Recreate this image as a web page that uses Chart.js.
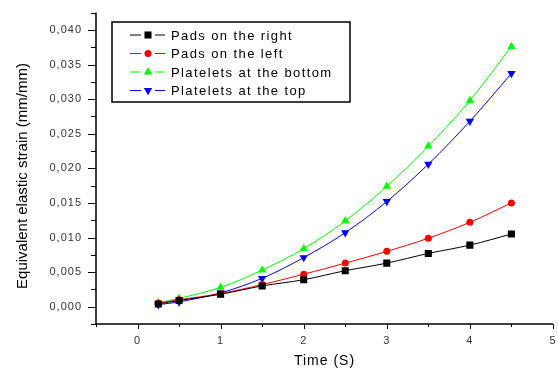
<!DOCTYPE html>
<html>
<head>
<meta charset="utf-8">
<script src="https://cdn.jsdelivr.net/npm/chart.js@4.4.1/dist/chart.umd.min.js"></script>
<style>
  html, body { margin: 0; padding: 0; background: #fff; }
  #wrap { width: 558px; height: 370px; }
</style>
</head>
<body>
<div id="wrap"><canvas id="strainChart"></canvas></div>
<script>
// time values (s) and strain per location (mm/mm)
var times = [0.25, 0.5, 1, 1.5, 2, 2.5, 3, 3.5, 4, 4.5];
var padsRight = [0.0004, 0.0009, 0.0018, 0.0030, 0.0039, 0.0052, 0.0063, 0.0077, 0.0089, 0.0105];
var padsLeft = [0.0005, 0.0010, 0.0019, 0.0032, 0.0047, 0.0063, 0.0080, 0.0099, 0.0122, 0.0150];
var plateletsBottom = [0.0006, 0.0012, 0.0028, 0.0053, 0.0084, 0.0124, 0.0174, 0.0232, 0.0298, 0.0376];
var plateletsTop = [0.0003, 0.0007, 0.0020, 0.0041, 0.0071, 0.0107, 0.0152, 0.0206, 0.0268, 0.0337];
var seriesNames = ['Pads on the right', 'Pads on the left', 'Platelets at the bottom', 'Platelets at the top'];
var xTicks = [0, 1, 2, 3, 4, 5];
var yTicks = [0, 0.005, 0.01, 0.015, 0.02, 0.025, 0.03, 0.035, 0.04];
var xTitle = 'Time (S)';
var yTitle = 'Equivalent elastic strain (mm/mm)';

var FONT = '"Liberation Sans", Arial, sans-serif';

function pts(vals) {
  return times.map(function (t, i) { return { x: t, y: vals[i] }; });
}

function makeSet(name, vals, color, style, rot, r) {
  return {
    label: name,
    data: pts(vals),
    borderColor: color,
    backgroundColor: color,
    borderWidth: 1,
    pointStyle: style,
    rotation: rot,
    pointRadius: r,
    pointBorderWidth: 0,
    tension: 0.35
  };
}

// axis lines, major and minor tick marks (Origin style, outward), titles
var axesPlugin = {
  id: 'axes',
  beforeDraw: function (chart) {
    chart.ctx.letterSpacing = '1px';
  },
  afterDraw: function (chart) {
    var ctx = chart.ctx, a = chart.chartArea;
    var xs = chart.scales.x, ys = chart.scales.y;
    ctx.save();
    ctx.strokeStyle = '#000';
    ctx.lineWidth = 1.5;
    ctx.beginPath();
    ctx.moveTo(a.left, a.top);
    ctx.lineTo(a.left, a.bottom);
    ctx.lineTo(a.right, a.bottom);
    ctx.stroke();
    ctx.lineWidth = 1;
    ctx.beginPath();
    for (var v = -0.5; v <= 5.001; v += 0.5) {
      var px = Math.round(xs.getPixelForValue(v)) + 0.5;
      var len = Math.abs(v - Math.round(v)) < 1e-6 ? 5 : 3;
      ctx.moveTo(px, a.bottom);
      ctx.lineTo(px, a.bottom + len);
    }
    for (var w = -0.0025; w <= 0.0426; w += 0.0025) {
      var py = Math.round(ys.getPixelForValue(w)) + 0.5;
      var major = Math.abs(w / 0.005 - Math.round(w / 0.005)) < 1e-6;
      ctx.moveTo(a.left, py);
      ctx.lineTo(a.left - (major ? 8 : 5), py);
    }
    ctx.stroke();

    ctx.fillStyle = '#000';
    ctx.textAlign = 'center';
    ctx.textBaseline = 'middle';
    ctx.letterSpacing = '1px';
    ctx.font = '14px ' + FONT;
    ctx.fillText(xTitle, (a.left + a.right) / 2, 361);
    ctx.letterSpacing = '0px';
    ctx.font = '15px ' + FONT;
    ctx.translate(23, 176);
    ctx.rotate(-Math.PI / 2);
    ctx.fillText(yTitle, 0, 0);
    ctx.restore();
  }
};

// boxed legend inside the plot
var boxLegend = {
  id: 'boxLegend',
  afterDraw: function (chart) {
    var ctx = chart.ctx;
    var left = 112, top = 22, width = 238, height = 80, rowH = 18.5;
    ctx.save();
    ctx.strokeStyle = '#000';
    ctx.lineWidth = 1.5;
    ctx.strokeRect(left, top, width, height);
    ctx.font = '13px ' + FONT;
    ctx.letterSpacing = '1.4px';
    ctx.textBaseline = 'middle';
    ctx.textAlign = 'left';
    chart.data.datasets.forEach(function (ds, i) {
      var y = top + 13 + i * rowH;
      ctx.strokeStyle = ds.borderColor;
      ctx.lineWidth = 1;
      ctx.beginPath();
      ctx.moveTo(130, y);
      ctx.lineTo(141, y);
      ctx.moveTo(155, y);
      ctx.lineTo(165, y);
      ctx.stroke();
      ctx.fillStyle = ds.backgroundColor;
      Chart.helpers.drawPoint(ctx, {
        pointStyle: ds.pointStyle,
        rotation: ds.rotation,
        radius: ds.pointRadius,
        borderWidth: 0
      }, 148, y);
      ctx.fillStyle = '#000';
      ctx.fillText(ds.label, 171, y + 1);
    });
    ctx.restore();
  }
};

var ctx = document.getElementById('strainChart').getContext('2d');
var chartConfig = {
  type: 'line',
  data: {
    datasets: [
      makeSet(seriesNames[0], padsRight, '#000000', 'rect', 0, 5),
      makeSet(seriesNames[1], padsLeft, '#ff0000', 'circle', 0, 3.5),
      makeSet(seriesNames[2], plateletsBottom, '#00ff00', 'triangle', 0, 4.8),
      makeSet(seriesNames[3], plateletsTop, '#0000ff', 'triangle', 180, 4.8)
    ]
  },
  options: {
    responsive: true,
    maintainAspectRatio: false,
    animation: false,
    layout: { padding: { top: 6, right: -3, left: 0, bottom: 0 } },
    plugins: {
      legend: { display: false },
      tooltip: { enabled: false }
    },
    scales: {
      x: {
        type: 'linear',
        min: -0.5,
        max: 5,
        grid: { display: false },
        border: { display: false },
        afterBuildTicks: function (s) {
          s.ticks = xTicks.map(function (v) { return { value: v }; });
        },
        afterFit: function (s) { s.height = 46; },
        ticks: {
          color: '#333',
          font: { family: FONT, size: 11 },
          padding: 2,
          maxRotation: 0
        }
      },
      y: {
        min: -0.0025,
        max: 0.0425,
        grid: { display: false },
        border: { display: false },
        afterBuildTicks: function (s) {
          s.ticks = yTicks.map(function (v) { return { value: v }; });
        },
        afterFit: function (s) { s.width = 96; },
        ticks: {
          color: '#333',
          font: { family: FONT, size: 11 },
          padding: 6,
          callback: function (v) { return v.toFixed(3).replace('.', ','); }
        }
      }
    }
  },
  plugins: [axesPlugin, boxLegend]
};

var strainChart = new Chart(ctx, chartConfig);
</script>
</body>
</html>
